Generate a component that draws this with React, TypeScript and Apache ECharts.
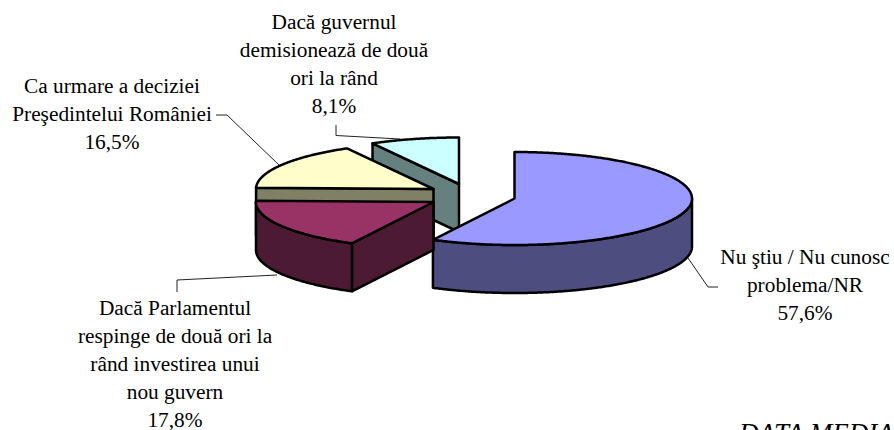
import React, { useEffect, useRef } from "react";
import * as echarts from "echarts";

const categories = [
  "Nu ştiu / Nu cunosc\nproblema/NR",
  "Dacă Parlamentul\nrespinge de două ori la\nrând investirea unui\nnou guvern",
  "Ca urmare a deciziei\nPreşedintelui României",
  "Dacă guvernul\ndemisionează de două\nori la rând",
];
const values = [57.6, 17.8, 16.5, 8.1];
const topColors = ["#9999FF", "#993366", "#FFFFCC", "#CCFFFF"];
const sideColors = ["#4D4D80", "#4D1A33", "#808066", "#668080"];
const sourceNote = "DATA MEDIA";

// layout of the exploded 3D pie
const RX = 177.5;
const RY = 46.5;
const DEPTH = 48;
const centers = [
  [514.5, 198.5],
  [433.5, 202],
  [433.5, 189],
  [459, 184],
];
const paintOrder = [1, 3, 2, 0];
const labelPos = [
  [805, 243],
  [175, 294],
  [112, 72],
  [334, 8],
];
const leaders = [
  [[688, 258], [708, 287], [718, 287]],
  [[177, 292], [177, 280], [277, 275]],
  [[216, 115], [227, 115], [279, 165]],
  [[336, 125], [336, 135.5], [400, 139]],
];
const FONT = '"Liberation Serif", "Times New Roman", serif';

function pt(cx: number, cy: number, deg: number, dz = 0): number[] {
  const r = (deg * Math.PI) / 180;
  return [cx + RX * Math.sin(r), cy - RY * Math.cos(r) + dz];
}
function arc(cx: number, cy: number, from: number, to: number, dz = 0): number[][] {
  const out: number[][] = [];
  const n = Math.max(1, Math.ceil(Math.abs(to - from) * 2));
  for (let i = 0; i <= n; i++) out.push(pt(cx, cy, from + ((to - from) * i) / n, dz));
  return out;
}

const total = values.reduce((a, b) => a + b, 0);
const startAngles = values.map((_, i) =>
  (values.slice(0, i).reduce((a, b) => a + b, 0) / total) * 360
);

function renderSlice(params: any, api: any) {
  const i = params.dataIndex;
  const from = startAngles[i];
  const to = from + (api.value(0) / total) * 360;
  const [cx, cy] = centers[i];
  const line = { stroke: "#000", lineWidth: 2.5, lineJoin: "round" };
  const z = paintOrder[i] * 10;
  const children: any[] = [];

  // radial wall at the start angle faces the viewer in the second half of the turn
  if (from > 180) {
    const p = pt(cx, cy, from);
    children.push({
      type: "polygon",
      z2: z,
      shape: { points: [p, [cx, cy], [cx, cy + DEPTH], [p[0], p[1] + DEPTH]] },
      style: { fill: sideColors[i], ...line },
    });
  }
  // outer rim on the front half
  const rimFrom = Math.max(from, 90);
  const rimTo = Math.min(to, 270);
  if (rimTo > rimFrom) {
    children.push({
      type: "polygon",
      z2: z + 1,
      shape: {
        points: [...arc(cx, cy, rimFrom, rimTo), ...arc(cx, cy, rimTo, rimFrom, DEPTH)],
      },
      style: { fill: sideColors[i], ...line },
    });
  }
  // top face
  children.push({
    type: "polygon",
    z2: z + 2,
    shape: { points: [[cx, cy], ...arc(cx, cy, from, to)] },
    style: { fill: topColors[i], ...line },
  });
  return { type: "group", children };
}

export default function App() {
  const ref = useRef<HTMLDivElement>(null);
  useEffect(() => {
    const chart = echarts.init(ref.current!, null, { renderer: "svg" });
    const graphic: any[] = [];
    categories.forEach((c, i) => {
      graphic.push({
        type: "polyline",
        silent: true,
        z: 1,
        shape: { points: leaders[i] },
        style: { stroke: "#222", lineWidth: 1, fill: "none" },
      });
      graphic.push({
        type: "text",
        silent: true,
        x: labelPos[i][0],
        y: labelPos[i][1],
        style: {
          text: `${c}\n${values[i].toFixed(1).replace(".", ",")}%`,
          font: `21.33px ${FONT}`,
          lineHeight: 28,
          fill: "#000",
          align: "center",
          verticalAlign: "top",
        },
      });
    });
    graphic.push({
      type: "text",
      silent: true,
      x: 739,
      y: 419,
      style: {
        text: sourceNote,
        font: `italic 27px ${FONT}`,
        fill: "#000",
        align: "left",
        verticalAlign: "top",
      },
    });
    chart.setOption({
      animation: false,
      backgroundColor: "#fff",
      graphic,
      series: [
        {
          type: "custom",
          coordinateSystem: "none",
          silent: true,
          z: 5,
          renderItem: renderSlice,
          data: values.map((v) => [v]),
        },
      ],
    });
    return () => chart.dispose();
  }, []);
  return (
    <div
      ref={ref}
      style={{ position: "fixed", left: 0, top: 0, width: 894, height: 430, overflow: "hidden" }}
    />
  );
}
